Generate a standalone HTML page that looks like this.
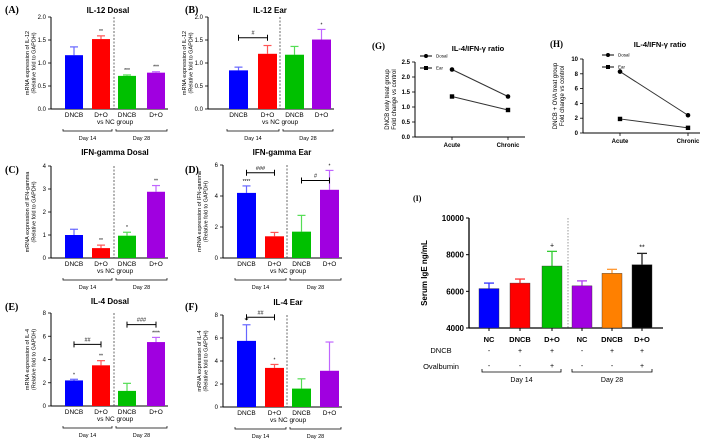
<!DOCTYPE html>
<html><head><meta charset="utf-8"><style>
html,body{margin:0;padding:0;background:#fff;}
svg{display:block;font-family:"Liberation Sans",sans-serif;}
</style></head><body>
<svg id="fig" width="706" height="441" viewBox="0 0 706 441" xmlns="http://www.w3.org/2000/svg"></svg>
<script>
// ---- data ----
const barCats = ["DNCB","D+O","DNCB","D+O"];
const aVals = [1.17,1.52,0.72,0.79]; const aErr = [0.18,0.07,0.02,0.02]; const aStars = ["","**","***","***"];
const bVals = [0.84,1.20,1.18,1.51]; const bErr = [0.07,0.18,0.18,0.22]; const bStars = ["","","","*"];
const cVals = [1.00,0.43,0.97,2.88]; const cErr = [0.25,0.13,0.15,0.27]; const cStars = ["","**","*","**"];
const dVals = [4.20,1.40,1.70,4.40]; const dErr = [0.45,0.25,1.05,1.25]; const dStars = ["****","","","*"];
const eVals = [2.20,3.50,1.30,5.50]; const eErr = [0.10,0.40,0.65,0.40]; const eStars = ["*","**","","****"];
const fVals = [5.75,3.40,1.60,3.15]; const fErr = [1.40,0.30,0.85,2.50]; const fStars = ["**","*","",""];
const ticks2 = ["0.0","0.5","1.0","1.5","2.0"];
const ticks4 = ["0","1","2","3","4"];
const ticks6 = ["0","2","4","6"];
const ticks8 = ["0","2","4","6","8"];
const lineCats = ["Acute","Chronic"];
const gDosal = [2.25,1.35]; const gEar = [1.35,0.90];
const hDosal = [8.3,2.4]; const hEar = [1.9,0.7];
const gTicks = ["0.0","0.5","1.0","1.5","2.0","2.5"];
const hTicks = ["0","2","4","6","8","10"];
const iCats = ["NC","DNCB","D+O","NC","DNCB","D+O"];
const iVals = [6150,6450,7380,6300,6980,7450];
const iErr = [300,220,800,270,220,620];
const iStars = ["","","+","","","**"];
const iTicks = ["4000","6000","8000","10000"];
const iDNCB = ["-","+","+","-","+","+"];
const iOva = ["-","-","+","-","-","+"];

const NS="http://www.w3.org/2000/svg";
const svg=document.getElementById('fig');
function el(tag,attrs,parent,text){const e=document.createElementNS(NS,tag);for(const k in attrs)e.setAttribute(k,attrs[k]);if(text!==undefined)e.textContent=text;(parent||svg).appendChild(e);return e;}
const cols4=["#0000ff","#ff0000","#00c000","#a000e0"];
const errCols4=["#6666ff","#ff5555","#55dd55","#c066ff"];

function barPanel(o){
  const g=el('g',{});
  
  
  const ymax=o.ymax;
  const y=v=>o.y0-(v/ymax)*(o.y0-o.yt);
  el('line',{x1:o.ax,y1:o.yt,x2:o.ax,y2:o.y0,stroke:'#000','stroke-width':1},g);
  el('line',{x1:o.ax,y1:o.y0,x2:o.axEnd,y2:o.y0,stroke:'#000','stroke-width':1},g);
  o.ticks.forEach(t=>{const yy=y(parseFloat(t));
    el('line',{x1:o.ax-3,y1:yy,x2:o.ax,y2:yy,stroke:'#000','stroke-width':0.8},g);
    el('text',{x:o.ax-5,y:yy+2,'font-size':6,'text-anchor':'end'},g,t);});
  o.vals.forEach((v,i)=>{
    const x=o.bx[i], w=o.bw, top=y(v), et=y(v+o.err[i]);
    el('line',{x1:x+w/2,y1:top,x2:x+w/2,y2:et,stroke:errCols4[i],'stroke-width':1.2},g);
    el('line',{x1:x+w/2-4,y1:et,x2:x+w/2+4,y2:et,stroke:errCols4[i],'stroke-width':1.2},g);
    const r=el('rect',{x:x,y:top,width:w,height:o.y0-top,fill:cols4[i]},g);
    
    
    if(o.stars[i]) el('text',{x:x+w/2,y:et-3,'font-size':5,'text-anchor':'middle'},g,o.stars[i]);
    el('text',{x:x+w/2,y:o.y0+8,'font-size':6.5,'text-anchor':'middle'},g,barCats[i]);
  });
  el('line',{x1:o.dash,y1:o.yt,x2:o.dash,y2:o.y0,stroke:'#444','stroke-width':0.8,'stroke-dasharray':'2,1.5'},g);
  el('text',{x:(o.bx[0]+o.bx[3]+o.bw)/2,y:o.y0+15,'font-size':6.5,'text-anchor':'middle'},g,'vs NC group');
  const by=o.y0+22;
  [[o.bx[0]-2,o.bx[1]+o.bw+2,'Day 14'],[o.bx[2]-2,o.bx[3]+o.bw+2,'Day 28']].forEach(b=>{
    el('path',{d:`M${b[0]} ${by-2}V${by}H${b[1]}V${by-2}`,fill:'none',stroke:'#000','stroke-width':0.7},g);
    el('text',{x:(b[0]+b[1])/2,y:by+9,'font-size':5.5,'text-anchor':'middle'},g,b[2]);
  });
  (o.brk||[]).forEach(b=>{const yy=y(b.v), x1=o.bx[b.i]+o.bw/2, x2=o.bx[b.j]+o.bw/2;
    el('line',{x1:x1,y1:yy,x2:x2,y2:yy,stroke:'#000','stroke-width':1},g);
    el('line',{x1:x1,y1:yy-3,x2:x1,y2:yy+3,stroke:'#000','stroke-width':1},g);
    el('line',{x1:x2,y1:yy-3,x2:x2,y2:yy+3,stroke:'#000','stroke-width':1},g);
    el('text',{x:(x1+x2)/2,y:yy-3,'font-size':5.5,'text-anchor':'middle'},g,b.t);});
  el('text',{x:o.tx,y:o.ty,'font-size':8,'font-weight':'bold','text-anchor':'middle'},g,o.title);
  el('text',{x:o.lx,y:o.ly,'font-size':10,'font-weight':'bold','font-family':'"Liberation Serif",serif'},g,o.label);
  const cy=(o.yt+o.y0)/2, lx=o.ax-19;
  const t=el('text',{x:lx,y:cy,'font-size':5.5,'text-anchor':'middle',transform:`rotate(-90 ${lx} ${cy})`},g);
  el('tspan',{x:lx,dy:-3},t,o.ylab);
  el('tspan',{x:lx,dy:6.5},t,'(Relative fold to GAPDH)');
}
const leftBx=[65,92,118,147], rightBx=[229,258,285,312], fBx=[237,265,292,320];
barPanel({name:'panel-a',label:'(A)',lx:5,ly:13,title:'IL-12 Dosal',tx:108,ty:13,ax:51,axEnd:168,yt:17,y0:109,ymax:2,ticks:ticks2,vals:aVals,err:aErr,stars:aStars,bx:leftBx,bw:18,dash:114,ylab:'mRNA expression of IL-12'});
barPanel({name:'panel-b',label:'(B)',lx:185,ly:13,title:'IL-12 Ear',tx:270,ty:13,ax:208,axEnd:334,yt:17,y0:109,ymax:2,ticks:ticks2,vals:bVals,err:bErr,stars:bStars,bx:rightBx,bw:19,dash:280,ylab:'mRNA expression of IL-12',brk:[{i:0,j:1,v:1.55,t:'#'}]});
barPanel({name:'panel-c',label:'(C)',lx:5,ly:173,title:'IFN-gamma Dosal',tx:115,ty:155,ax:51,axEnd:168,yt:166,y0:258,ymax:4,ticks:ticks4,vals:cVals,err:cErr,stars:cStars,bx:leftBx,bw:18,dash:114,ylab:'mRNA expression of IFN-gamma'});
barPanel({name:'panel-d',label:'(D)',lx:185,ly:173,title:'IFN-gamma Ear',tx:282,ty:155,ax:223,axEnd:342,yt:165,y0:258,ymax:6,ticks:ticks6,vals:dVals,err:dErr,stars:dStars,bx:fBx,bw:19,dash:287,ylab:'mRNA expression of IFN-gamma',brk:[{i:0,j:1,v:5.5,t:'###'},{i:2,j:3,v:5.0,t:'#'}]});
barPanel({name:'panel-e',label:'(E)',lx:5,ly:310,title:'IL-4 Dosal',tx:110,ty:304,ax:51,axEnd:168,yt:313,y0:406,ymax:8,ticks:ticks8,vals:eVals,err:eErr,stars:eStars,bx:leftBx,bw:18,dash:114,ylab:'mRNA expression of IL-4',brk:[{i:0,j:1,v:5.3,t:'##'},{i:2,j:3,v:7.0,t:'###'}]});
barPanel({name:'panel-f',label:'(F)',lx:185,ly:310,title:'IL-4 Ear',tx:288,ty:305,ax:223,axEnd:342,yt:315,y0:407,ymax:8,ticks:ticks8,vals:fVals,err:fErr,stars:fStars,bx:fBx,bw:19,dash:287,ylab:'mRNA expression of IL-4',brk:[{i:0,j:1,v:7.8,t:'##'}]});

function linePanel(o){
  const g=el('g',{});
  
  
  const y=v=>o.y0-(v/o.ymax)*(o.y0-o.yt);
  el('line',{x1:o.ax,y1:o.yt,x2:o.ax,y2:o.y0,stroke:'#000','stroke-width':1},g);
  el('line',{x1:o.ax,y1:o.y0,x2:o.axEnd,y2:o.y0,stroke:'#000','stroke-width':1},g);
  o.ticks.forEach(t=>{const yy=y(parseFloat(t));
    el('line',{x1:o.ax-3,y1:yy,x2:o.ax,y2:yy,stroke:'#000','stroke-width':0.8},g);
    el('text',{x:o.ax-5,y:yy+2,'font-size':6,'font-weight':'bold','text-anchor':'end'},g,t);});
  lineCats.forEach((c,i)=>{el('line',{x1:o.cx[i],y1:o.y0,x2:o.cx[i],y2:o.y0+3,stroke:'#000','stroke-width':0.8},g);
    el('text',{x:o.cx[i],y:o.y0+10,'font-size':6,'font-weight':'bold','text-anchor':'middle'},g,c);});
  [[o.d1,'circle'],[o.d2,'square']].forEach(s=>{
    const pts=s[0].map((v,i)=>[o.cx[i],y(v)]);
    const l=el('line',{x1:pts[0][0],y1:pts[0][1],x2:pts[1][0],y2:pts[1][1],stroke:'#333','stroke-width':1},g);
    
    
    pts.forEach(p=>{ if(s[1]==='circle') el('circle',{cx:p[0],cy:p[1],r:2.3,fill:'#000'},g); else el('rect',{x:p[0]-2.2,y:p[1]-2.2,width:4.4,height:4.4,fill:'#000'},g);});
  });
  const lg=el('g',{},g);
  
  
  el('line',{x1:o.lgx,y1:o.lgy,x2:o.lgx+12,y2:o.lgy,stroke:'#000'},lg);
  el('circle',{cx:o.lgx+6,cy:o.lgy,r:2,fill:'#000'},lg);
  el('text',{x:o.lgx+16,y:o.lgy+1.5,'font-size':4.5},lg,'Dosal');
  el('line',{x1:o.lgx,y1:o.lgy+12,x2:o.lgx+12,y2:o.lgy+12,stroke:'#000'},lg);
  el('rect',{x:o.lgx+4,y:o.lgy+10,width:4,height:4,fill:'#000'},lg);
  el('text',{x:o.lgx+16,y:o.lgy+13.5,'font-size':4.5},lg,'Ear');
  el('text',{x:o.tx,y:o.ty,'font-size':7.5,'font-weight':'bold','text-anchor':'middle'},g,'IL-4/IFN-γ ratio');
  el('text',{x:o.lx,y:o.ly,'font-size':9,'font-weight':'bold','font-family':'"Liberation Serif",serif'},g,o.label);
  const cy=(o.yt+o.y0)/2, lx=o.ax-23;
  const t=el('text',{x:lx,y:cy,'font-size':6,'text-anchor':'middle',transform:`rotate(-90 ${lx} ${cy})`},g);
  el('tspan',{x:lx,dy:-3},t,o.ylab);
  el('tspan',{x:lx,dy:7},t,'Fold change vs control');
}
linePanel({name:'panel-g',label:'(G)',lx:372,ly:49,tx:478,ty:51,ax:415,axEnd:525,yt:62,y0:137,ymax:2.5,ticks:gTicks,cx:[452,508],d1:gDosal,d2:gEar,lgx:420,lgy:56,ylab:'DNCB only treat group'});
linePanel({name:'panel-h',label:'(H)',lx:550,ly:47,tx:660,ty:47,ax:583,axEnd:700,yt:59,y0:133,ymax:10,ticks:hTicks,cx:[620,688],d1:hDosal,d2:hEar,lgx:602,lgy:55,ylab:'DNCB + OVA treat group'});

// Panel I
(function(){
  const g=el('g',{});
  
  
  const ax=469,y0=328,yt=218,ymin=4000,ymax=10000;
  const y=v=>y0-(v-ymin)/(ymax-ymin)*(y0-yt);
  const bx=[479,510,542,572,602,632], bw=20;
  const cols=["#0000ff","#ff0000","#00c000","#a000e0","#ff8000","#000000"];
  const ecols=["#3333ff","#ff3333","#33cc33","#b040f0","#ff9933","#222"];
  el('line',{x1:ax,y1:yt,x2:ax,y2:y0,stroke:'#000','stroke-width':1.3},g);
  el('line',{x1:ax,y1:y0,x2:663,y2:y0,stroke:'#000','stroke-width':1.3},g);
  iTicks.forEach(t=>{const yy=y(+t);
    el('line',{x1:ax-3,y1:yy,x2:ax,y2:yy,stroke:'#000','stroke-width':1},g);
    el('text',{x:ax-5,y:yy+3,'font-size':8,'font-weight':'bold','text-anchor':'end'},g,t);});
  iVals.forEach((v,i)=>{
    const top=y(v),et=y(v+iErr[i]),cx=bx[i]+bw/2;
    el('line',{x1:cx,y1:top,x2:cx,y2:et,stroke:ecols[i],'stroke-width':1.3},g);
    el('line',{x1:cx-5,y1:et,x2:cx+5,y2:et,stroke:ecols[i],'stroke-width':1.3},g);
    const r=el('rect',{x:bx[i],y:top,width:bw,height:y0-top,fill:cols[i],stroke:'#333','stroke-width':0.4},g);
    
    
    el('line',{x1:cx,y1:y0,x2:cx,y2:y0+3,stroke:'#000','stroke-width':1},g);
    if(iStars[i]) el('text',{x:cx,y:et-4,'font-size':7,'text-anchor':'middle'},g,iStars[i]);
    el('text',{x:cx,y:342,'font-size':7.5,'font-weight':'bold','text-anchor':'middle'},g,iCats[i]);
    el('text',{x:cx,y:353,'font-size':7,'text-anchor':'middle'},g,iDNCB[i]);
    el('text',{x:cx,y:368,'font-size':7,'text-anchor':'middle'},g,iOva[i]);
  });
  el('line',{x1:568,y1:yt,x2:568,y2:y0,stroke:'#555','stroke-width':0.6,'stroke-dasharray':'1.5,1.5'},g);
  el('text',{x:441,y:353,'font-size':7.5,'text-anchor':'middle'},g,'DNCB');
  el('text',{x:441,y:369,'font-size':7.5,'text-anchor':'middle'},g,'Ovalbumin');
  [[482,561,'Day 14'],[572,652,'Day 28']].forEach(b=>{
    el('path',{d:`M${b[0]} 369V372H${b[1]}V369`,fill:'none',stroke:'#000','stroke-width':0.8},g);
    el('text',{x:(b[0]+b[1])/2,y:382,'font-size':7,'text-anchor':'middle'},g,b[2]);});
  el('text',{x:427,y:273,'font-size':8,'font-weight':'bold','text-anchor':'middle',transform:'rotate(-90 427 273)'},g,'Serum IgE ng/mL');
  el('text',{x:413,y:201,'font-size':8,'font-weight':'bold','font-family':'"Liberation Serif",serif'},g,'(I)');
})();
</script>
</body></html>
